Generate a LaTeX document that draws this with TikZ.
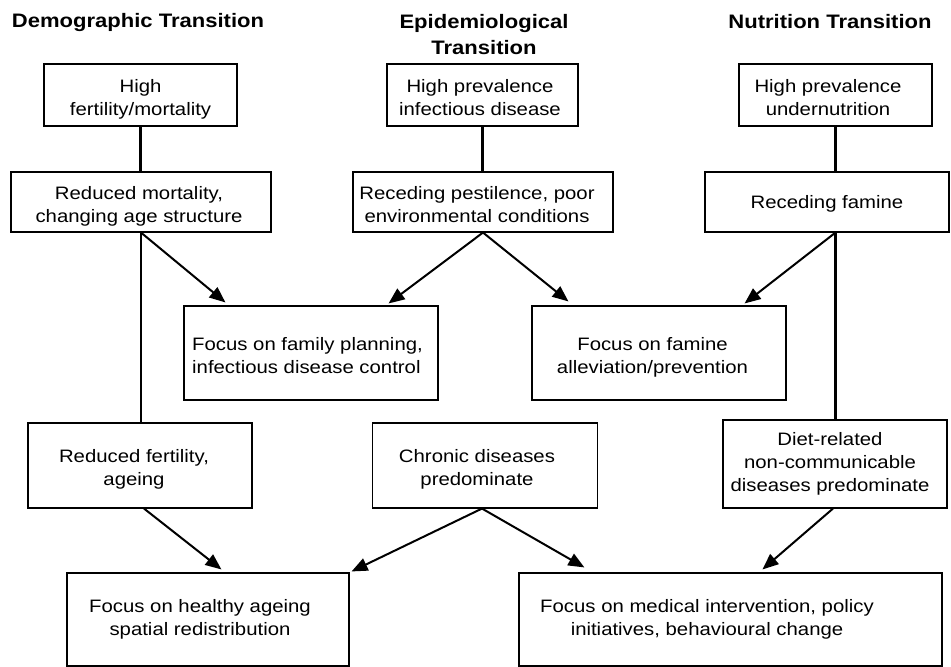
\documentclass[tikz,border=0pt]{standalone}
\usepackage{fontspec}
\setmainfont{Liberation Sans}[FakeStretch=1.13]
\usetikzlibrary{arrows.meta,calc}
\NewDocumentCommand\boxtext{O{0pt} O{4pt} m}{\raisebox{-#2}[\height][\depth]{\begin{tabular}{@{}c@{}}#3\end{tabular}}\hspace*{#1}}
\begin{document}
\begin{tikzpicture}[x=1pt,y=-1pt,
  box/.style={draw, line width=1.1pt, inner sep=0pt, font=\fontsize{18}{23}\selectfont},
  head/.style={font=\fontsize{19.5}{26}\selectfont\bfseries, align=center, inner sep=0pt},
  conn/.style={line width=2.1pt},
  arr/.style={line width=2pt, -{Triangle[length=16pt,width=13pt]}}]
\useasboundingbox (0,0) rectangle (951,667);

% headers
\node[head] (h1) at (138,22) {Demographic Transition};
\node[head] (h2) at (484,35) {Epidemiological\\Transition};
\node[head] (h3) at (830,22) {Nutrition Transition};

% top row
\node[box, minimum width=193pt, minimum height=62pt] (a1) at (140.5,95) {\boxtext{High\\fertility/mortality}};
\node[box, minimum width=191pt, minimum height=62pt] (b1) at (482.5,95) {\boxtext[5pt]{High prevalence\\infectious disease}};
\node[box, minimum width=193pt, minimum height=62pt] (c1) at (835.5,95) {\boxtext[15pt]{High prevalence\\undernutrition}};

% second row
\node[box, minimum width=260pt, minimum height=60pt] (a2) at (141,202) {\boxtext[4pt]{Reduced mortality,\\changing age structure}};
\node[box, minimum width=260pt, minimum height=60pt] (b2) at (483,202) {\boxtext[12pt]{Receding pestilence, poor\\environmental conditions}};
\node[box, minimum width=244pt, minimum height=60pt] (c2) at (827,202) {\boxtext[0pt][2pt]{Receding famine}};

% first focus row
\node[box, minimum width=254pt, minimum height=94pt] (f1) at (311,353) {\raisebox{-4pt}[\height][\depth]{\begin{tabular}{@{}l@{}}Focus on family planning,\\infectious disease control\end{tabular}}\hspace*{7pt}};
\node[box, minimum width=254pt, minimum height=94pt] (f2) at (659,353) {\boxtext[13pt]{Focus on famine\\alleviation/prevention}};

% third row
\node[box, minimum width=224pt, minimum height=85pt] (a3) at (140,465.5) {\boxtext[12pt]{Reduced fertility,\\ageing}};
\node[box, minimum width=225pt, minimum height=85pt] (b3) at (485,465.5) {\boxtext[16pt]{Chronic diseases\\predominate}};
\node[box, minimum width=224pt, minimum height=88pt] (c3) at (835,464) {\boxtext[10pt][0pt]{Diet-related\\non-communicable\\diseases predominate}};

% bottom focus row
\node[box, minimum width=282pt, minimum height=93pt] (f3) at (208,619.5) {\boxtext[16pt][0pt]{Focus on healthy ageing\\spatial redistribution}};
\node[box, minimum width=423pt, minimum height=93pt] (f4) at (730.5,619.5) {\boxtext[47pt][0pt]{Focus on medical intervention, policy\\initiatives, behavioural change}};

% vertical connectors
\draw[conn] (a1.south) -- (a1.south |- a2.north);
\draw[conn] (b1.south) -- (b1.south |- b2.north);
\draw[conn] (c1.south) -- (c1.south |- c2.north);
\draw[conn] (a2.south) -- (a2.south |- a3.north);
\draw[conn] (c1.south |- c2.south) -- (c1.south |- c3.north);

% arrows
\draw[arr] (a2.south) -- ($(f1.north west)+(42,-3)$);
\draw[arr] (b2.south) -- ($(f1.north east)+(-50,-2)$);
\draw[arr] (b2.south) -- ($(f2.north west)+(37,-4)$);
\draw[arr] (c1.south |- c2.south) -- ($(f2.north east)+(-42,-2)$);
\draw[arr] ($(a3.south)+(4,0)$) -- ($(f3.north west)+(155,-3)$);
\draw[arr] ($(b3.south)+(-3,0)$) -- ($(f3.north east)+(2,-1)$);
\draw[arr] ($(b3.south)+(-3,0)$) -- ($(f4.north west)+(66,-5)$);
\draw[arr] ($(c3.south)+(-2,0)$) -- ($(f4.north west)+(244,-3)$);
\end{tikzpicture}
\end{document}
